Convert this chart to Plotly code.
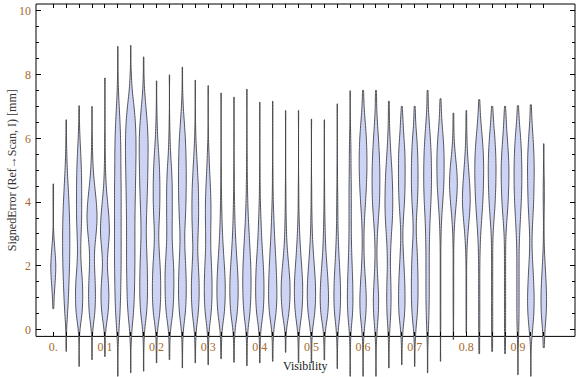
import plotly.graph_objects as go

# Visibility bins (violin positions)
visibility = [0.0, 0.025, 0.05, 0.075, 0.1, 0.125, 0.15, 0.175, 0.2, 0.225,
              0.25, 0.275, 0.3, 0.325, 0.35, 0.375, 0.4, 0.425, 0.45, 0.475,
              0.5, 0.525, 0.55, 0.575, 0.6, 0.625, 0.65, 0.675, 0.7, 0.725,
              0.75, 0.775, 0.8, 0.825, 0.85, 0.875, 0.9, 0.925, 0.95]

# Signed error histogram (relative counts), per bin,
# on this error grid [mm]
err_grid = [-1.0, -0.5, 0.0, 0.5, 1.0, 1.5, 2.0, 2.5, 3.0, 3.5,
            4.0, 4.5, 5.0, 5.5, 6.0, 6.5, 7.0, 7.5, 8.0, 8.5]
c00 = [0, 0, 0, 0, 2, 6, 9, 5, 1, 0, 1, 0, 0, 0, 0, 0, 0, 0, 0, 0]
c01 = [0, 0, 1, 5, 8, 10, 12, 13, 13, 12, 10, 7, 4, 2, 1, 0, 0, 0, 0, 0]
c02 = [0, 0, 2, 11, 13, 12, 7, 5, 7, 9, 9, 9, 8, 6, 3, 1, 0, 0, 0, 0]
c03 = [0, 0, 2, 10, 12, 11, 8, 8, 14, 18, 15, 9, 4, 2, 1, 0, 0, 0, 0, 0]
c04 = [0, 0, 2, 11, 14, 12, 7, 10, 16, 14, 9, 4, 2, 1, 1, 0, 0, 0, 0, 0]
c05 = [0, 1, 4, 8, 10, 11, 12, 12, 12, 12, 12, 12, 11, 11, 10, 8, 5, 2, 1, 0]
c06 = [0, 1, 4, 10, 13, 14, 15, 15, 15, 15, 16, 17, 18, 19, 19, 17, 12, 5, 2, 0]
c07 = [0, 1, 3, 11, 14, 14, 13, 11, 9, 10, 12, 14, 15, 16, 16, 13, 8, 3, 1, 0]
c08 = [0, 1, 3, 12, 15, 15, 13, 9, 7, 10, 12, 12, 11, 8, 4, 2, 1, 0, 0, 0]
c09 = [0, 1, 3, 12, 15, 16, 15, 11, 9, 10, 10, 10, 8, 4, 2, 1, 0, 0, 0, 0]
c10 = [0, 1, 3, 11, 14, 14, 12, 9, 8, 11, 13, 14, 14, 13, 11, 7, 3, 1, 0, 0]
c11 = [0, 1, 3, 11, 14, 14, 11, 8, 10, 12, 12, 11, 8, 5, 2, 1, 0, 0, 0, 0]
c12 = [0, 1, 3, 11, 14, 14, 12, 9, 9, 10, 10, 8, 5, 3, 1, 0, 0, 0, 0, 0]
c13 = [0, 1, 3, 12, 15, 15, 12, 8, 5, 3, 2, 1, 1, 0, 0, 0, 0, 0, 0, 0]
c14 = [0, 1, 3, 12, 15, 15, 12, 8, 5, 3, 2, 1, 1, 0, 0, 0, 0, 0, 0, 0]
c15 = [0, 1, 3, 11, 14, 15, 14, 11, 8, 5, 3, 2, 1, 1, 0, 0, 0, 0, 0, 0]
c16 = [0, 1, 3, 12, 15, 15, 13, 9, 6, 4, 2, 1, 1, 0, 0, 0, 0, 0, 0, 0]
c17 = [0, 1, 3, 12, 15, 14, 12, 9, 6, 4, 2, 1, 1, 0, 0, 0, 0, 0, 0, 0]
c18 = [0, 0, 2, 12, 16, 16, 11, 6, 3, 2, 1, 1, 0, 0, 0, 0, 0, 0, 0, 0]
c19 = [0, 1, 3, 12, 15, 15, 11, 7, 4, 2, 1, 1, 0, 0, 0, 0, 0, 0, 0, 0]
c20 = [0, 1, 3, 12, 15, 14, 10, 6, 3, 2, 1, 1, 0, 0, 0, 0, 0, 0, 0, 0]
c21 = [0, 1, 3, 13, 15, 13, 9, 5, 3, 2, 1, 1, 0, 0, 0, 0, 0, 0, 0, 0]
c22 = [0, 1, 3, 10, 12, 11, 8, 5, 3, 2, 2, 1, 1, 0, 0, 0, 0, 0, 0, 0]
c23 = [0, 1, 3, 9, 10, 9, 7, 5, 4, 4, 4, 4, 3, 3, 2, 1, 0, 0, 0, 0]
c24 = [0, 1, 4, 11, 12, 9, 5, 3, 3, 5, 9, 12, 14, 14, 12, 8, 3, 1, 0, 0]
c25 = [0, 1, 4, 9, 10, 7, 4, 3, 5, 9, 13, 14, 14, 12, 9, 5, 2, 1, 0, 0]
c26 = [0, 1, 3, 7, 8, 7, 5, 6, 9, 13, 14, 13, 11, 7, 4, 2, 1, 0, 0, 0]
c27 = [0, 1, 4, 11, 12, 11, 8, 5, 3, 6, 10, 12, 12, 12, 8, 4, 1, 0, 0, 0]
c28 = [0, 1, 4, 10, 12, 12, 11, 9, 5, 6, 10, 12, 12, 11, 8, 3, 1, 0, 0, 0]
c29 = [0, 1, 3, 5, 6, 6, 6, 6, 7, 9, 12, 14, 14, 13, 10, 6, 2, 1, 0, 0]
c30 = [0, 0, 1, 1, 1, 1, 1, 1, 2, 4, 8, 12, 13, 13, 10, 5, 2, 0, 0, 0]
c31 = [0, 0, 0, 1, 1, 1, 1, 1, 2, 5, 10, 14, 12, 6, 2, 1, 0, 0, 0, 0]
c32 = [0, 0, 0, 1, 1, 1, 1, 2, 5, 10, 14, 12, 8, 4, 2, 1, 0, 0, 0, 0]
c33 = [0, 1, 2, 2, 2, 2, 2, 3, 5, 9, 13, 15, 16, 15, 11, 6, 2, 0, 0, 0]
c34 = [0, 1, 2, 2, 2, 2, 2, 2, 3, 7, 11, 13, 14, 13, 10, 5, 1, 0, 0, 0]
c35 = [0, 1, 2, 2, 2, 2, 2, 2, 3, 7, 11, 13, 14, 12, 8, 4, 1, 0, 0, 0]
c36 = [0, 1, 3, 4, 4, 4, 4, 4, 6, 9, 12, 14, 14, 13, 10, 5, 1, 0, 0, 0]
c37 = [0, 1, 6, 11, 12, 10, 7, 4, 4, 7, 10, 11, 12, 11, 8, 4, 1, 0, 0, 0]
c38 = [0, 1, 4, 9, 10, 8, 5, 2, 1, 1, 2, 2, 1, 0, 0, 0, 0, 0, 0, 0]

counts = [c00, c01, c02, c03, c04, c05, c06, c07, c08, c09,
          c10, c11, c12, c13, c14, c15, c16, c17, c18, c19,
          c20, c21, c22, c23, c24, c25, c26, c27, c28, c29,
          c30, c31, c32, c33, c34, c35, c36, c37, c38]

# extreme values (ends of the thin spikes) per bin [mm]
err_min = [0.66, -0.68, -1.15, -0.94, -0.84, -1.46, -1.35, -1.3, -1.04, -0.94,
           -1.2, -1.04, -1.1, -0.91, -1.02, -1.13, -1.04, -0.99, -0.71, -1.04,
           -1.04, -0.95, -1.22, -1.46, -1.46, -1.46, -1.2, -1.1, -1.15, -1.35,
           -0.99, -0.31, -0.1, -0.75, -0.68, -0.75, -1.41, -1.46, -0.56]
err_max = [4.57, 6.58, 7.02, 7.0, 7.89, 8.88, 8.91, 8.55, 7.8, 7.99,
           8.23, 7.82, 7.65, 7.42, 7.29, 7.54, 7.13, 7.16, 6.87, 6.87,
           6.6, 6.58, 7.08, 7.49, 7.34, 7.37, 7.16, 6.69, 6.92, 7.42,
           7.24, 6.79, 6.87, 7.21, 6.95, 6.79, 7.02, 7.05, 5.83]

x_tick_vals = [0.0, 0.1, 0.2, 0.3, 0.4, 0.5, 0.6, 0.7, 0.8, 0.9]
x_tick_text = ["0.", "0.1", "0.2", "0.3", "0.4", "0.5", "0.6", "0.7", "0.8", "0.9"]
y_tick_vals = [0, 2, 4, 6, 8, 10]
y_minor_vals = [0.5, 1, 1.5, 2.5, 3, 3.5, 4.5, 5, 5.5, 6.5, 7, 7.5, 8.5, 9, 9.5]

FILL = "rgb(205,211,245)"
EDGE = "rgba(60,60,60,0.85)"
FONT = "Liberation Serif"
TICKCOL = "#a8692b"
MAXW = 0.0215          # full width (data units) of a violin at count 20

fig = go.Figure()
for xv, cnt, lo, hi in zip(visibility, counts, err_min, err_max):
    samples = [g for g, c in zip(err_grid, cnt) for _ in range(c)] + [lo, hi]
    fig.add_trace(go.Violin(
        y=samples, x0=xv, name=str(xv), xaxis="x2",
        width=MAXW * max(cnt) / 20.0, scalemode="width",
        spanmode="hard", bandwidth=0.3,
        points=False, box_visible=False, meanline_visible=False,
        fillcolor=FILL, line=dict(color=EDGE, width=1),
        showlegend=False, hoverinfo="skip",
    ))
# empty trace so the top frame axis is created (draws nothing)
fig.add_trace(go.Scatter(x=[], y=[], xaxis="x", yaxis="y", showlegend=False,
                         hoverinfo="skip"))

XR = [-0.0335, 1.0105]
YR = [-1.483, 10.21]
frame_bottom = -0.21
fb_frac = (frame_bottom - YR[0]) / (YR[1] - YR[0])

fig.update_layout(
    width=576, height=377,
    margin=dict(l=36, r=1, t=4, b=0),
    paper_bgcolor="white", plot_bgcolor="white",
    violinmode="overlay",
    font=dict(family=FONT, size=12, color="#222"),
    xaxis=dict(range=XR, side="top", anchor="y", showgrid=False, zeroline=False,
               showline=False, tickvals=visibility, ticks="inside", ticklen=4,
               tickcolor="black", showticklabels=False, automargin=False),
    xaxis2=dict(range=XR, overlaying="x", anchor="free",
                position=fb_frac, side="bottom",
                showgrid=False, zeroline=False, showline=False,
                tickvals=x_tick_vals, ticktext=x_tick_text, ticks="inside",
                ticklen=4, tickcolor="black", automargin=False,
                ticklabelstandoff=2,
                tickfont=dict(family=FONT, size=12, color=TICKCOL),
                minor=dict(tickvals=visibility, ticks="inside", ticklen=4,
                           tickcolor="black")),
    yaxis=dict(range=YR, showgrid=False, zeroline=False, showline=False,
               tickvals=y_tick_vals, ticks="inside", ticklen=5,
               tickcolor="black", mirror="ticks", automargin=False,
               ticklabelstandoff=4,
               tickfont=dict(family=FONT, size=12, color=TICKCOL),
               minor=dict(tickvals=y_minor_vals, ticks="inside", ticklen=3,
                          tickcolor="black")),
    shapes=[dict(type="rect", xref="paper", yref="paper", x0=0, x1=1,
                 y0=fb_frac, y1=1, line=dict(color="black", width=1),
                 layer="below")],
    annotations=[
        dict(text="Visibility", xref="x domain", yref="y", x=0.5, y=-1.13,
             showarrow=False, font=dict(family=FONT, size=12, color="#222"),
             yanchor="middle"),
        dict(text="SignedError (Ref\u2192Scan, I) [mm]", xref="paper", yref="y",
             x=-24 / 539, y=5.0, textangle=-90, showarrow=False,
             font=dict(family=FONT, size=12, color="#333"),
             xanchor="center", yanchor="middle"),
    ],
)

fig.write_html("out.html", config={"displayModeBar": False},
               post_script="document.body.style.margin='0px';")
